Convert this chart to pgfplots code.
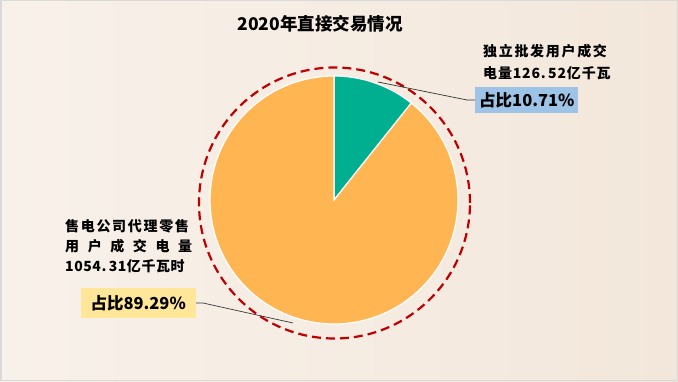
\documentclass[border=0pt]{standalone}
\usepackage{pgfplots}
\pgfplotsset{compat=1.18}
\usepackage{fontspec}
\setmainfont{Noto Sans CJK SC}
\definecolor{pgreen}{RGB}{0,175,143}
\definecolor{porange}{RGB}{255,181,82}
\definecolor{dred}{RGB}{192,0,0}
\definecolor{bblue}{RGB}{157,195,230}
\definecolor{byellow}{RGB}{255,230,153}
\definecolor{bgL}{RGB}{248,241,234}
\definecolor{bgR}{RGB}{243,231,219}
\definecolor{bord}{RGB}{217,217,217}
\pgfplotstableread{
share
10.71
89.29
}\sharetable
\begin{document}
\begin{tikzpicture}
\fill[left color=bgL, right color=bgR] (0,0) rectangle (678pt,381pt);
\draw[bord, line width=1.5pt] (0.75pt,0.75pt) rectangle (677.25pt,380.25pt);
\begin{axis}[scale only axis, width=678pt, height=381pt,
  xmin=0, xmax=678, ymin=0, ymax=381, axis lines=none, clip=false]
\pgfplotstablegetelem{0}{share}\of\sharetable
\let\sA\pgfplotsretval
% green slice
\addplot[draw=white, line width=1.2pt, fill=pgreen, domain=0:\sA, samples=40, variable=\t]
  ({334+124*sin(3.6*\t)},{181+124*cos(3.6*\t)}) -- (axis cs:334,181) -- cycle;
% orange slice
\addplot[draw=white, line width=1.2pt, fill=porange, domain=\sA:100, samples=150, variable=\t]
  ({334+124*sin(3.6*\t)},{181+124*cos(3.6*\t)}) -- (axis cs:334,181) -- cycle;
% dashed ring
\draw[dred, line width=2.2pt, dash pattern=on 9pt off 5pt] (axis cs:334.5,178) circle[radius=135.5pt];
% leader lines
\draw[black!80, line width=0.7pt] (axis cs:378,299) -- (axis cs:467,281) -- (axis cs:475,281);
\draw[black!80, line width=0.7pt] (axis cs:293,58) -- (axis cs:203,78) -- (axis cs:196,78);
% title
\node[font=\bfseries\fontsize{17.5}{20}\selectfont] at (axis cs:320,357) {2020年直接交易情况};
% right labels
\node[anchor=west, inner sep=0pt, font=\bfseries\fontsize{14}{16}\selectfont\addfontfeature{LetterSpace=12}] at (axis cs:483,330) {独立批发用户成交};
\node[anchor=west, inner sep=0pt, font=\bfseries\fontsize{14}{16}\selectfont\addfontfeature{LetterSpace=6}] at (axis cs:483,308) {电量126.\,52亿千瓦};
\node[fill=bblue, anchor=west, inner xsep=4pt, minimum height=26pt, minimum width=98pt, font=\bfseries\fontsize{16.5}{18}\selectfont] at (axis cs:475,281) {占比10.71\%};
% left labels
\node[anchor=west, inner sep=0pt, font=\bfseries\fontsize{14}{16}\selectfont\addfontfeature{LetterSpace=12}] at (axis cs:65,155) {售电公司代理零售};
\node[anchor=west, inner sep=0pt, font=\bfseries\fontsize{14}{16}\selectfont] at (axis cs:65,135) {\makebox[127pt][s]{用\hfill 户\hfill 成\hfill 交\hfill 电\hfill 量}};
\node[anchor=west, inner sep=0pt, font=\bfseries\fontsize{14}{16}\selectfont\addfontfeature{LetterSpace=4}] at (axis cs:65,115) {1054.\,31亿千瓦时};
\node[fill=byellow, anchor=east, inner xsep=10pt, minimum height=29pt, font=\bfseries\fontsize{16.5}{18}\selectfont] at (axis cs:196,78) {占比89.29\%};
\end{axis}
\end{tikzpicture}
\end{document}
